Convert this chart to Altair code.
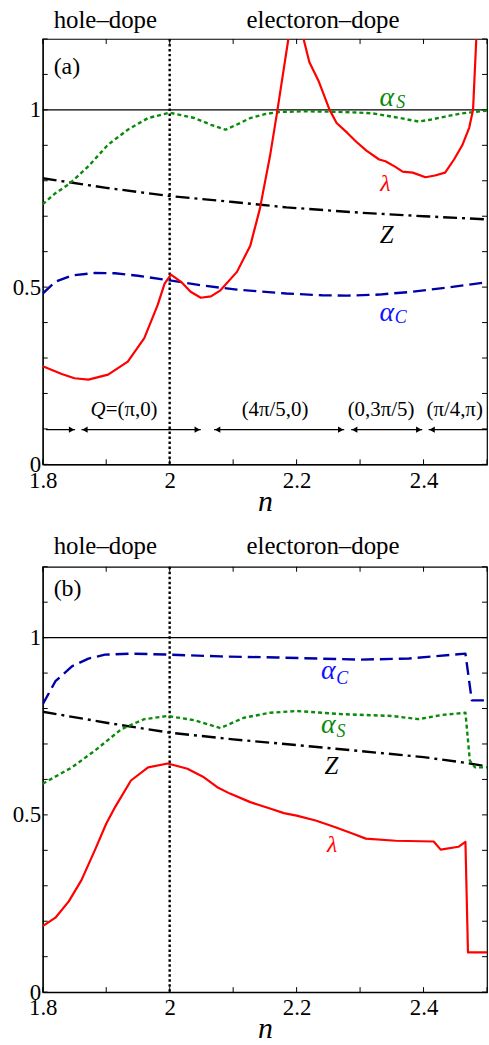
import altair as alt
import pandas as pd

FONT = "Liberation Serif"
W, H = 447, 428

# ---------------- panel (a) ----------------
a_lam_n = [1.8, 1.83, 1.85, 1.872, 1.903, 1.934, 1.96, 1.981, 1.992, 2.002, 2.018, 2.033, 2.049,
           2.065, 2.08, 2.106, 2.127, 2.142, 2.158, 2.169, 2.187, 2.199, 2.211, 2.22, 2.235, 2.252,
           2.263, 2.28, 2.294, 2.31, 2.33, 2.34, 2.355, 2.367, 2.383, 2.403, 2.418, 2.434, 2.448,
           2.461, 2.472, 2.478, 2.483, 2.486]
a_lam_v = [0.277, 0.255, 0.243, 0.239, 0.253, 0.29, 0.356, 0.449, 0.51, 0.535, 0.515, 0.487, 0.47,
           0.474, 0.491, 0.543, 0.617, 0.72, 0.869, 0.99, 1.2, 1.4, 1.2, 1.135, 1.08, 1.0,
           0.963, 0.935, 0.91, 0.885, 0.86, 0.855, 0.84, 0.826, 0.823, 0.81, 0.815, 0.823, 0.86,
           0.90, 0.95, 1.0, 1.196, 1.4]

a_as_n = [1.8, 1.82, 1.841, 1.872, 1.903, 1.934, 1.966, 2.0, 2.039, 2.065, 2.088, 2.11, 2.127,
          2.15, 2.173, 2.21, 2.252, 2.29, 2.32, 2.36, 2.392, 2.41, 2.434, 2.46, 2.5]
a_as_v = [0.734, 0.765, 0.79, 0.841, 0.902, 0.944, 0.977, 0.992, 0.977, 0.958, 0.944, 0.962, 0.977,
          0.988, 0.994, 0.996, 0.995, 0.993, 0.99, 0.978, 0.967, 0.972, 0.981, 0.99, 0.998]

a_ac_n = [1.8, 1.82, 1.846, 1.882, 1.914, 1.95, 2.0, 2.054, 2.106, 2.184, 2.24, 2.28, 2.33,
          2.383, 2.434, 2.5]
a_ac_v = [0.482, 0.515, 0.533, 0.54, 0.539, 0.532, 0.519, 0.504, 0.493, 0.482, 0.477, 0.476, 0.479,
          0.487, 0.498, 0.514]

a_z_n = [1.8, 1.9, 2.0, 2.1, 2.184, 2.3, 2.4, 2.5]
a_z_v = [0.807, 0.78, 0.757, 0.74, 0.725, 0.71, 0.70, 0.691]

# ---------------- panel (b) ----------------
b_lam_n = [1.8, 1.82, 1.841, 1.861, 1.882, 1.9, 1.914, 1.939, 1.966, 1.997, 2.028, 2.054, 2.075,
           2.095, 2.127, 2.158, 2.18, 2.2, 2.23, 2.26, 2.29, 2.309, 2.356, 2.416, 2.427, 2.455,
           2.466, 2.470, 2.5]
b_lam_v = [0.186, 0.21, 0.256, 0.316, 0.40, 0.475, 0.522, 0.597, 0.634, 0.645, 0.63, 0.606, 0.578,
           0.56, 0.536, 0.518, 0.505, 0.498, 0.484, 0.466, 0.446, 0.433, 0.427, 0.425, 0.402, 0.41,
           0.424, 0.112, 0.112]

b_as_n = [1.8, 1.846, 1.882, 1.924, 1.96, 1.997, 2.039, 2.08, 2.117, 2.158, 2.2, 2.273, 2.351,
          2.392, 2.429, 2.466, 2.473, 2.481, 2.5]
b_as_v = [0.588, 0.634, 0.681, 0.742, 0.77, 0.779, 0.767, 0.745, 0.774, 0.788, 0.793, 0.784, 0.779,
          0.77, 0.782, 0.788, 0.653, 0.634, 0.634]

b_ac_n = [1.8, 1.82, 1.846, 1.872, 1.898, 1.939, 2.0, 2.08, 2.169, 2.211, 2.3, 2.377, 2.466,
          2.476, 2.5]
b_ac_v = [0.812, 0.877, 0.919, 0.941, 0.952, 0.955, 0.952, 0.947, 0.944, 0.942, 0.938, 0.941, 0.955,
          0.823, 0.823]

b_z_n = [1.8, 1.9, 2.0, 2.1, 2.2, 2.3, 2.4, 2.461, 2.5]
b_z_v = [0.791, 0.76, 0.732, 0.713, 0.697, 0.68, 0.663, 0.648, 0.637]

# ---------------- axes / annotations ----------------
x_tick_values = [1.8, 1.9, 2.0, 2.1, 2.2, 2.3, 2.4, 2.5]
y_tick_values = [0.0, 0.1, 0.2, 0.3, 0.4, 0.5, 0.6, 0.7, 0.8, 0.9, 1.0, 1.1, 1.2]
x_label_values = [1.8, 2.0, 2.2, 2.4]
y_label_values = [0, 0.5, 1]

arrow_start = [1.805, 1.861, 2.07, 2.286, 2.408]
arrow_end = [1.851, 2.049, 2.275, 2.398, 2.53]
arrow_left_head = [False, True, True, True, True]
arrow_right_head = [True, True, True, True, False]
arrow_level = 0.098
region_labels = ["=(π,0)", "(4π/5,0)", "(0,3π/5)", "(π/4,π)"]
region_label_n = [1.94, 2.166, 2.333, 2.449]
region_label_level = 0.152

xscale = alt.Scale(domain=[1.8, 2.5], nice=False, zero=False)
yscale = alt.Scale(domain=[0, 1.2], nice=False, zero=False)

XAXIS = alt.Axis(
    values=x_label_values, format="~g", title="n", ticks=False, grid=False,
    labelFontSize=23, labelFlush=False, labelOverlap=False, labelPadding=5,
    titleFontSize=30, titleFontStyle="italic", titleFontWeight="normal", titlePadding=-6)
YAXIS = alt.Axis(
    values=y_label_values, format="~g", title=None, ticks=False, grid=False,
    labelFontSize=23, labelPadding=2, labelOverlap=False)

RED = "#ff0000"
GREEN = "#0a8a0a"
BLUE_LINE = "#0000a8"
BLUE_TXT = "#1010ff"


def X(field="n"):
    return alt.X(f"{field}:Q", scale=xscale, axis=XAXIS)


def Y(field="v"):
    return alt.Y(f"{field}:Q", scale=yscale, axis=YAXIS)


def series(ns, vs, color, dash, width):
    df = pd.DataFrame({"n": ns, "v": vs, "i": list(range(len(ns)))})
    mk = dict(color=color, strokeWidth=width, clip=True, strokeCap="butt", strokeJoin="round")
    if dash:
        mk["strokeDash"] = dash
    return alt.Chart(df).mark_line(**mk).encode(x=X(), y=Y(), order="i:Q")


def label(text, n, v, color, size, italic=True, align="center"):
    df = pd.DataFrame({"n": [n], "v": [v], "t": [text]})
    return alt.Chart(df).mark_text(
        font=FONT, fontSize=size, fontStyle="italic" if italic else "normal",
        color=color, align=align, baseline="middle"
    ).encode(x=X(), y=Y(), text="t:N")


def pixel_text(text, px, py, size, align="center", baseline="alphabetic"):
    df = pd.DataFrame({"t": [text]})
    return alt.Chart(df).mark_text(
        font=FONT, fontSize=size, color="black", align=align, baseline=baseline
    ).encode(x=alt.value(px), y=alt.value(py), text="t:N")


def frame_layers():
    xt = pd.DataFrame({"n": x_tick_values})
    yt = pd.DataFrame({"v": y_tick_values})
    tick_style = dict(color="black", strokeWidth=1)
    xb = alt.Chart(xt).mark_rule(**tick_style).encode(x=X(), y=alt.value(H), y2=alt.value(H - 5))
    xtp = alt.Chart(xt).mark_rule(**tick_style).encode(x=X(), y=alt.value(0), y2=alt.value(5))
    yl = alt.Chart(yt).mark_rule(**tick_style).encode(y=Y(), x=alt.value(0), x2=alt.value(5))
    yr = alt.Chart(yt).mark_rule(**tick_style).encode(y=Y(), x=alt.value(W), x2=alt.value(W - 5))
    one = alt.Chart(pd.DataFrame({"v": [1.0]})).mark_rule(color="black", strokeWidth=1.2).encode(
        y=Y(), x=alt.value(0), x2=alt.value(W))
    half = alt.Chart(pd.DataFrame({"n": [2.0]})).mark_rule(
        color="black", strokeWidth=2.4, strokeDash=[2.5, 2.5]).encode(
        x=X(), y=alt.value(0), y2=alt.value(H))
    return [xb, xtp, yl, yr, one, half]


def arrows():
    df = pd.DataFrame({"s": arrow_start, "e": arrow_end, "v": [arrow_level] * len(arrow_start),
                       "lh": arrow_left_head, "rh": arrow_right_head})
    shafts = alt.Chart(df).mark_rule(color="black", strokeWidth=1.2, clip=True).encode(
        x=X("s"), x2="e:Q", y=Y())
    lheads = alt.Chart(df[df["lh"]]).mark_point(
        shape="triangle-left", filled=True, color="black", size=40, opacity=1, xOffset=3.5
    ).encode(x=X("s"), y=Y())
    rheads = alt.Chart(df[df["rh"]]).mark_point(
        shape="triangle-right", filled=True, color="black", size=40, opacity=1, xOffset=-3.5
    ).encode(x=X("e"), y=Y())
    ldf = pd.DataFrame({"n": region_label_n, "t": region_labels,
                        "v": [region_label_level] * len(region_labels)})
    texts = alt.Chart(ldf).mark_text(font=FONT, fontSize=21, color="black", baseline="middle").encode(
        x=X(), y=Y(), text="t:N")
    q = label("Q", 1.887, region_label_level, "black", 21, italic=True, align="center")
    return [shafts, lheads, rheads, texts, q]


panel_a = alt.layer(
    series(a_z_n, a_z_v, "black", [14, 5, 3, 5], 2.4),
    *frame_layers(),
    series(a_ac_n, a_ac_v, BLUE_LINE, [13, 6], 2.4),
    series(a_as_n, a_as_v, GREEN, [4, 3], 2.4),
    series(a_lam_n, a_lam_v, RED, None, 2.2),
    *arrows(),
    label("α", 2.342, 1.034, GREEN, 28),
    label("S", 2.364, 1.02, GREEN, 18),
    label("λ", 2.34, 0.79, RED, 24),
    label("Z", 2.342, 0.647, "black", 25),
    label("α", 2.342, 0.426, BLUE_TXT, 28),
    label("C", 2.364, 0.412, BLUE_TXT, 18),
    pixel_text("(a)", 11, 28, 24, align="left", baseline="middle"),
    pixel_text("hole–dope", 63, -11, 25),
    pixel_text("electoron–dope", 282, -11, 25),
).properties(width=W, height=H)

panel_b = alt.layer(
    series(b_z_n, b_z_v, "black", [14, 5, 3, 5], 2.4),
    *frame_layers(),
    series(b_ac_n, b_ac_v, BLUE_LINE, [13, 6], 2.4),
    series(b_as_n, b_as_v, GREEN, [4, 3], 2.4),
    series(b_lam_n, b_lam_v, RED, None, 2.2),
    label("α", 2.25, 0.905, BLUE_TXT, 28),
    label("C", 2.272, 0.882, BLUE_TXT, 18),
    label("α", 2.25, 0.754, GREEN, 28),
    label("S", 2.27, 0.734, GREEN, 18),
    label("Z", 2.255, 0.639, "black", 25),
    label("λ", 2.256, 0.415, RED, 24),
    pixel_text("(b)", 11, 22, 24, align="left", baseline="middle"),
    pixel_text("hole–dope", 63, -13, 25),
    pixel_text("electoron–dope", 282, -13, 25),
).properties(width=W, height=H)

chart = alt.vconcat(panel_a, panel_b, spacing=103, bounds="flush").properties(
    padding={"left": 11, "top": 4, "right": 0, "bottom": 0}
).configure_axis(
    labelFont=FONT, titleFont=FONT, domainColor="black", domainWidth=1.2,
    labelColor="black", titleColor="black"
).configure_view(stroke="black", strokeWidth=1.2)

chart.save("out.html", embed_options={"renderer": "svg", "actions": False})
